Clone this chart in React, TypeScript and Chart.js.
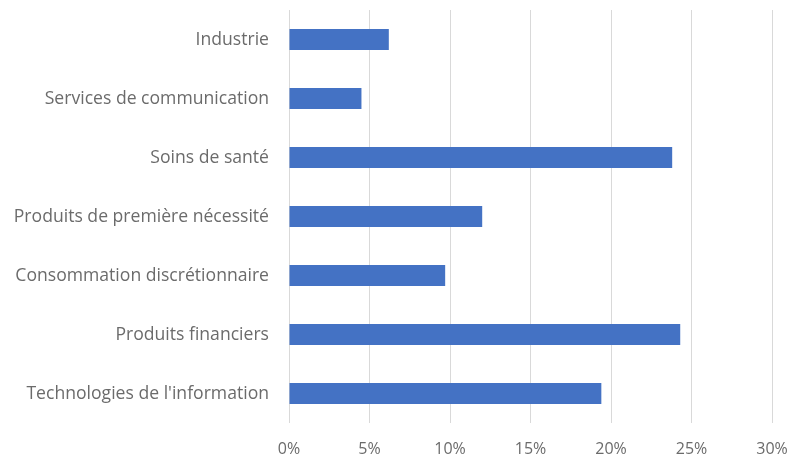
import React, { useEffect, useRef } from "react";
import { Chart, registerables } from "chart.js";

Chart.register(...registerables);

const categories = [
  "Industrie",
  "Services de communication",
  "Soins de santé",
  "Produits de première nécessité",
  "Consommation discrétionnaire",
  "Produits financiers",
  "Technologies de l'information",
];
const values = [6.2, 4.5, 23.8, 12.0, 9.7, 24.3, 19.4];
const xTicks = [0, 5, 10, 15, 20, 25, 30];

export default function App() {
  const ref = useRef<HTMLCanvasElement>(null);
  useEffect(() => {
    if (!ref.current) return;
    const chart = new Chart(ref.current, {
      type: "bar",
      data: {
        labels: categories,
        datasets: [
          {
            data: values,
            backgroundColor: "#4472C4",
            barPercentage: 0.36,
            categoryPercentage: 1,
          },
        ],
      },
      options: {
        indexAxis: "y",
        animation: false,
        responsive: false,
        maintainAspectRatio: false,
        layout: { padding: { top: 10, right: 25, left: 0, bottom: 0 } },
        plugins: { legend: { display: false }, tooltip: { enabled: false } },
        scales: {
          x: {
            min: xTicks[0],
            max: xTicks[xTicks.length - 1],
            afterBuildTicks: (s: any) => {
              s.ticks = xTicks.map((v) => ({ value: v }));
            },
            afterFit: (s: any) => {
              s.height = 39;
              s.paddingLeft = 0;
              s.paddingRight = 0;
            },
            grid: { color: "#d9d9d9", drawTicks: false, lineWidth: 1 },
            border: { display: false },
            ticks: {
              padding: 17,
              color: "#6b6b6b",
              font: { family: "Open Sans", size: 16 },
              callback: (v: any) => v + "%",
            },
          },
          y: {
            afterFit: (s: any) => {
              s.width = 289;
              s.paddingTop = 0;
              s.paddingBottom = 0;
            },
            grid: { display: false, drawTicks: false },
            border: { display: false },
            ticks: {
              padding: 20,
              color: "#6b6b6b",
              font: { family: "Open Sans", size: 17.6 },
            },
          },
        },
      },
    });
    return () => chart.destroy();
  }, []);
  return (
    <div style={{ position: "fixed", left: 0, top: 0, width: 797, height: 462, background: "#fff" }}>
      <canvas ref={ref} width={797} height={462} style={{ width: 797, height: 462 }} />
    </div>
  );
}
